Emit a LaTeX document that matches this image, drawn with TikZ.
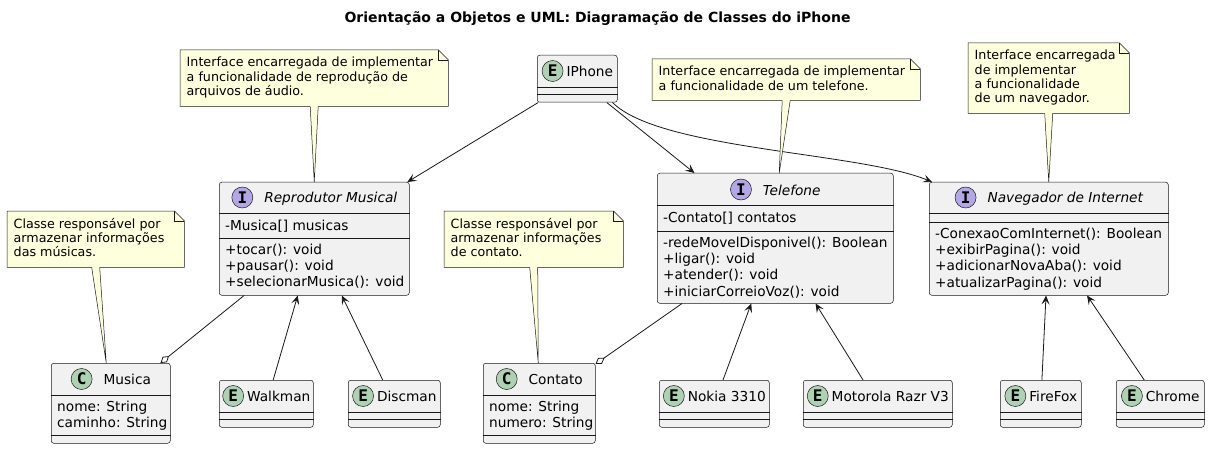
\documentclass[tikz,border=0pt]{standalone}
\usepackage{fontspec}
\setmainfont{DejaVu Sans}
\newfontfamily\circmono{DejaVu Sans Mono}
\usetikzlibrary{positioning,arrows.meta}

\definecolor{classbg}{HTML}{F1F1F1}
\definecolor{umlline}{HTML}{181818}
\definecolor{notebg}{HTML}{FEFFDD}
\definecolor{entgreen}{HTML}{ADD1B2}
\definecolor{intpurple}{HTML}{B4A7E5}

\newcommand\umlfont{\fontsize{13.7}{16.3}\selectfont}
\newcommand\notefont{\fontsize{12.7}{14.2}\selectfont}
\newcommand\titlefont{\bfseries\fontsize{14}{16}\selectfont}
\newcommand\circfont{\circmono\bfseries\fontsize{16}{16}\selectfont}

\tikzset{
    cls/.style={draw=umlline, fill=classbg, rounded corners=2.5pt, line width=0.5pt, inner sep=0pt, anchor=north west},
    sepl/.style={draw=umlline, line width=0.5pt},
    cname/.style={font=\umlfont, inner sep=0pt, text height=14pt, text depth=3pt, anchor=base},
    iname/.style={cname, font=\umlfont\itshape},
    circ/.style={circle, draw=umlline, line width=0.5pt, minimum size=21pt, inner sep=0pt, font=\circfont},
    ecirc/.style={circ, fill=entgreen},
    icirc/.style={circ, fill=intpurple},
    members/.style={font=\umlfont, align=left, inner sep=0pt, anchor=north west, execute at begin node=\strut},
    notebox/.style={inner sep=0pt, anchor=north west},
    noteline/.style={draw=umlline, line width=0.5pt},
    notetext/.style={font=\notefont, align=left, inner sep=0pt, anchor=north west, execute at begin node=\strut},
    assoc/.style={draw=umlline, line width=0.8pt, -{Stealth[length=9pt,width=8pt,inset=4pt]}},
    aggr/.style={draw=umlline, line width=0.8pt, -{Diamond[open,length=11pt,width=7pt]}},
}

% compartment line, offset from the top of the box
\newcommand\sepline[2]{\draw[sepl] ([yshift=-#2]#1.north west) -- ([yshift=-#2]#1.north east);}
% note outline with folded corner
\newcommand\noteframe[1]{%
    \draw[noteline, fill=notebg] (#1.north west) -- ([xshift=-10pt]#1.north east) -- ([yshift=-10pt]#1.north east) -- (#1.south east) -- (#1.south west) -- cycle;
    \draw[noteline] ([xshift=-10pt]#1.north east) |- ([yshift=-10pt]#1.north east);}
% pointer from a note down to its class
\newcommand\notepin[3]{%
    \fill[notebg] ([xshift=-4pt,yshift=0.5pt]#1.south) -- ([xshift=4pt,yshift=0.5pt]#1.south) -- ([xshift=#3]#2.north) -- cycle;
    \draw[noteline] ([xshift=-4pt]#1.south) -- ([xshift=#3]#2.north) -- ([xshift=4pt]#1.south);}

\begin{document}
\begin{tikzpicture}[x=1pt, y=-1pt]
    \fill[white] (0,0) rectangle (1209,449);
    \useasboundingbox (0,0) rectangle (1209,449);

    \node[font=\titlefont, anchor=base] (title) at (597.5,22.3) {Orientação a Objetos e UML: Diagramação de Classes do iPhone};

    % IPhone
    \node[cls, minimum width=80pt, minimum height=47pt] (iphone) at (537,55) {};
    \sepline{iphone}{32pt}\sepline{iphone}{39pt}
    \node[cname] (nameiphone) at ([xshift=12.5pt,yshift=-21.5pt]iphone.north) {IPhone};
    \node[ecirc, left=3pt of nameiphone] {E};

    % interfaces
    \node[cls, minimum width=190pt, minimum height=113pt] (repro) at (219,182) {};
    \sepline{repro}{31pt}\sepline{repro}{56pt}
    \node[iname] (namerepro) at ([xshift=16.5pt,yshift=-21pt]repro.north) {Reprodutor Musical};
    \node[icirc, left=11pt of namerepro] {I};
    \node[members] at ([xshift=6pt,yshift=-36.5pt]repro.north west) {-Musica[] musicas};
    \node[members] at ([xshift=6pt,yshift=-61.5pt]repro.north west) {+tocar(): void\\+pausar(): void\\+selecionarMusica(): void};

    \node[cls, minimum width=236pt, minimum height=130pt] (telefone) at (657,173) {};
    \sepline{telefone}{32pt}\sepline{telefone}{58pt}
    \node[iname] (nametelefone) at ([xshift=16.5pt,yshift=-22pt]telefone.north) {Telefone};
    \node[icirc, left=11pt of nametelefone] {I};
    \node[members] at ([xshift=6pt,yshift=-37.5pt]telefone.north west) {-Contato[] contatos};
    \node[members] at ([xshift=6pt,yshift=-63.5pt]telefone.north west) {-redeMovelDisponivel(): Boolean\\+ligar(): void\\+atender(): void\\+iniciarCorreioVoz(): void};

    \node[cls, minimum width=239pt, minimum height=113pt] (nav) at (929,182) {};
    \sepline{nav}{31pt}\sepline{nav}{40pt}
    \node[iname] (namenav) at ([xshift=16.5pt,yshift=-21pt]nav.north) {Navegador de Internet};
    \node[icirc, left=11pt of namenav] {I};
    \node[members] at ([xshift=6pt,yshift=-45.5pt]nav.north west) {-ConexaoComInternet(): Boolean\\+exibirPagina(): void\\+adicionarNovaAba(): void\\+atualizarPagina(): void};

    % classes
    \node[cls, minimum width=119pt, minimum height=80pt] (musica) at (51,363) {};
    \sepline{musica}{32pt}\sepline{musica}{72pt}
    \node[cname] (namemusica) at ([xshift=16.5pt,yshift=-21.5pt]musica.north) {Musica};
    \node[ecirc, left=11pt of namemusica] {C};
    \node[members] at ([xshift=6pt,yshift=-37.5pt]musica.north west) {nome: String\\caminho: String};

    \node[cls, minimum width=112pt, minimum height=80pt] (contato) at (483,363) {};
    \sepline{contato}{32pt}\sepline{contato}{72pt}
    \node[cname] (namecontato) at ([xshift=16.5pt,yshift=-21.5pt]contato.north) {Contato};
    \node[ecirc, left=11pt of namecontato] {C};
    \node[members] at ([xshift=6pt,yshift=-37.5pt]contato.north west) {nome: String\\numero: String};

    % entities of the bottom row
    \foreach \nm/\x/\w/\lbl in {walkman/219/94/Walkman, discman/348/92/Discman, nokia/659/110/Nokia 3310,
            motorola/803/149/Motorola Razr V3, firefox/1000/81/FireFox, chrome/1116/88/Chrome} {
        \node[cls, minimum width=\w pt, minimum height=47pt] (\nm) at (\x,380) {};
        \sepline{\nm}{32pt}\sepline{\nm}{39pt}
        \node[cname] (name\nm) at ([xshift=12.5pt,yshift=-21.5pt]\nm.north) {\lbl};
        \node[ecirc, left=3pt of name\nm] {E};
    }

    % connectors
    \draw[assoc] (iphone) -- (repro);
    \draw[assoc] (iphone) -- (telefone);
    \draw[assoc] ([xshift=-5pt]iphone.south east) .. controls (660,150) and (860,152) .. ([xshift=3pt]nav.north west);
    \draw[aggr] (repro) -- (musica);
    \draw[assoc] (walkman) -- (repro);
    \draw[assoc] (discman) -- (repro);
    \draw[aggr] (telefone) -- (contato);
    \draw[assoc] (nokia) -- (telefone);
    \draw[assoc] (motorola) -- (telefone);
    \draw[assoc] (firefox) -- (nav);
    \draw[assoc] (chrome) -- (nav);

    % notes
    \node[notebox, minimum width=268pt, minimum height=56pt] (noterepro) at (180,50) {};
    \noteframe{noterepro}
    \notepin{noterepro}{repro}{0pt}
    \node[notetext] at ([xshift=6.5pt,yshift=-7pt]noterepro.north west) {Interface encarregada de implementar\\a funcionalidade de reprodução de\\arquivos de áudio.};

    \node[notebox, minimum width=268pt, minimum height=41pt] (notetelefone) at (652,59) {};
    \noteframe{notetelefone}
    \notepin{notetelefone}{telefone}{4pt}
    \node[notetext] at ([xshift=6.5pt,yshift=-7pt]notetelefone.north west) {Interface encarregada de implementar\\a funcionalidade de um telefone.};

    \node[notebox, minimum width=161pt, minimum height=70pt] (notenav) at (968,43) {};
    \noteframe{notenav}
    \notepin{notenav}{nav}{0pt}
    \node[notetext] at ([xshift=6.5pt,yshift=-7pt]notenav.north west) {Interface encarregada\\de implementar\\a funcionalidade\\de um navegador.};

    \node[notebox, minimum width=177pt, minimum height=56pt] (notemusica) at (7,211) {};
    \noteframe{notemusica}
    \notepin{notemusica}{musica}{-4.5pt}
    \node[notetext] at ([xshift=6.5pt,yshift=-7pt]notemusica.north west) {Classe responsável por\\armazenar informações\\das músicas.};

    \node[notebox, minimum width=179pt, minimum height=56pt] (notecontato) at (444,211) {};
    \noteframe{notecontato}
    \notepin{notecontato}{contato}{-1pt}
    \node[notetext] at ([xshift=6.5pt,yshift=-7pt]notecontato.north west) {Classe responsável por\\armazenar informações\\de contato.};
\end{tikzpicture}
\end{document}
